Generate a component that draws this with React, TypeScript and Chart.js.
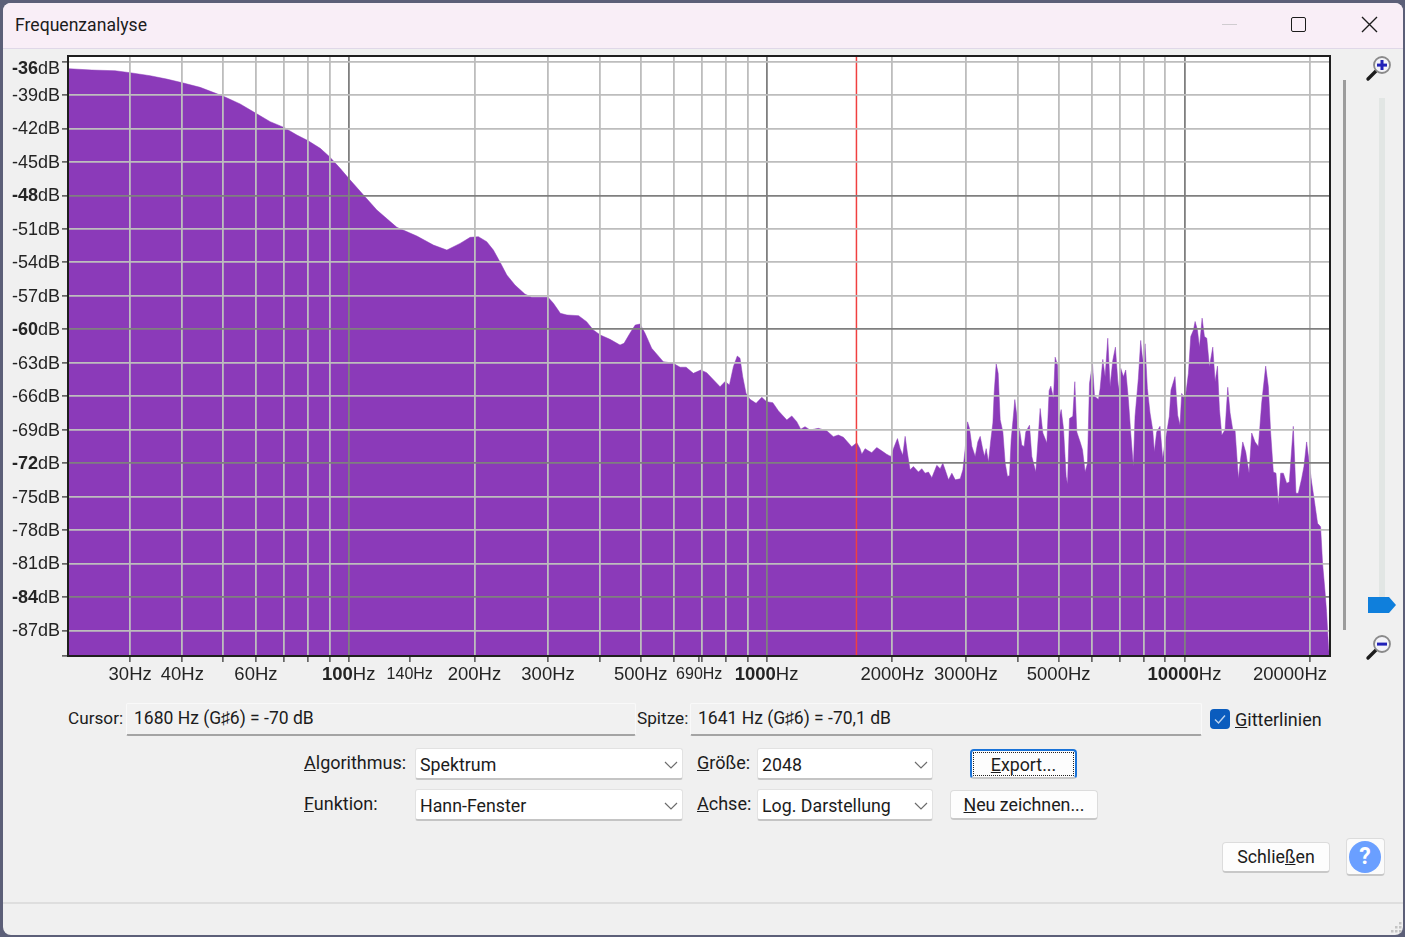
import { useEffect, useRef } from "react"
import { Chart, registerables } from "chart.js"

Chart.register(...registerables)

// Spectrum: frequency in Hz and level in dB
const spectrumHz = [
  21.4, 24.3, 27.6, 30, 33.5, 36.7, 40, 44.1, 50, 55, 60, 64.9, 70, 75.2, 80, 85.5, 90, 95.4, 100, 108.5,
  116.8, 130.4, 145.6, 159.5, 171.8, 184.8, 195.3, 204.4, 214, 222, 230, 239, 250, 264, 274, 300, 309, 321, 333, 355,
  371, 385, 400, 422, 446, 456, 471, 485, 498, 512, 531, 566, 598, 621, 642, 668, 696, 719, 774, 796,
  815, 833, 851, 864, 877, 893, 913, 944, 974, 1000, 1035, 1067, 1118, 1149, 1181, 1207, 1236, 1271, 1330, 1393,
  1445, 1485, 1527, 1599, 1644, 1674, 1690, 1721, 1753, 1785, 1835, 1886, 1938, 1982, 2012, 2057, 2088, 2118, 2146, 2173,
  2205, 2246, 2309, 2352, 2396, 2440, 2486, 2555, 2603, 2641, 2675, 2725, 2776, 2828, 2907, 2950, 2988, 3027, 3060, 3100,
  3157, 3203, 3245, 3293, 3323, 3354, 3397, 3441, 3480, 3505, 3544, 3583, 3623, 3677, 3724, 3772, 3814, 3849, 3898, 3927,
  3970, 4000, 4029, 4081, 4134, 4172, 4258, 4313, 4409, 4458, 4516, 4583, 4685, 4745, 4789, 4860, 4905, 4968, 5014, 5070,
  5135, 5211, 5250, 5308, 5406, 5466, 5526, 5629, 5702, 5786, 5861, 5926, 6025, 6092, 6227, 6284, 6377, 6459, 6554, 6639,
  6737, 6836, 6950, 7040, 7144, 7236, 7343, 7438, 7547, 7617, 7758, 7858, 7945, 8048, 8152, 8272, 8395, 8472, 8581, 8740,
  8869, 8983, 9066, 9200, 9285, 9493, 9633, 9758, 9849, 10037, 10222, 10354, 10508, 10605, 10742, 10862, 11022, 11165, 11309, 11476,
  11690, 11841, 11995, 12127, 12284, 12511, 12695, 12859, 13049, 13218, 13463, 13587, 13788, 14017, 14276, 14487, 14755, 15028, 15306, 15646,
  15877, 16082, 16320, 16561, 16775, 16992, 17243, 17562, 17822, 18218, 18487, 18726, 19073, 19319, 19604, 19893, 20149, 20447, 20825, 21172,
  21406, 21683, 21883, 22125, 22207,
]
const spectrumDb = [
  -36.64, -36.76, -36.82, -37, -37.27, -37.57, -37.9, -38.31, -39.09, -39.8, -40.64, -41.39, -41.9, -42.59, -43.1, -43.78, -44.53, -45.57, -46.47, -47.96,
  -49.31, -50.86, -51.64, -52.45, -52.9, -52.3, -51.76, -51.7, -52.15, -52.9, -53.94, -55.13, -56.03, -56.84, -57.13, -57.13, -57.67, -58.57, -58.72, -58.78,
  -59.32, -60.06, -60.51, -60.9, -61.41, -61.26, -60.36, -59.62, -59.53, -60.36, -61.7, -62.9, -63.05, -63.4, -63.4, -63.95, -63.65, -63.89, -65.15, -64.67,
  -65, -63.35, -62.4, -62.6, -64.25, -65.74, -66.28, -66.64, -66.1, -66.49, -66.58, -67.3, -68.13, -67.77, -68.28, -68.96, -68.73, -69.03, -68.88, -69.09,
  -69.63, -69.48, -69.68, -70.53, -70.17, -70.7, -71.2, -70.7, -70.9, -71.06, -70.6, -70.9, -71.2, -71.4, -70.7, -69.8, -70.7, -71.3, -69.6, -71.1,
  -72.6, -72.3, -72.8, -72.5, -72.9, -72.8, -73.3, -72.2, -72.5, -72, -72.6, -73.5, -72.9, -73.5, -73.4, -72.6, -70.7, -68.3, -68.9, -70.5,
  -71.4, -70.1, -69.6, -70.8, -71.4, -70.7, -71.9, -69.9, -68.4, -65.7, -63.1, -63.95, -68.1, -69.2, -72, -73.2, -73.1, -69.9, -67.7, -66.3,
  -67.7, -71.3, -68.9, -70.4, -70.5, -69.2, -68.6, -71.4, -72.8, -70.2, -67.1, -69.3, -70.2, -65.5, -65.1, -66.2, -62.5, -63.2, -68, -67.2,
  -68.9, -73.2, -73.9, -68, -67.8, -64.7, -69.2, -70.1, -70.8, -72.8, -72, -64.85, -63.1, -66, -66.3, -65.3, -62.7, -64.25, -60.8, -65.15,
  -62.8, -61.6, -65.45, -63.5, -64.25, -63.65, -66.3, -69.3, -72.3, -67.8, -64.4, -61, -62.8, -61.3, -65.3, -67.5, -69, -71, -69.2, -68.7,
  -71.6, -70.2, -69.3, -67.8, -65.45, -64.25, -67.7, -68.6, -65.75, -66.3, -63.95, -60.65, -60.07, -59.3, -60.07, -61.6, -59, -60.65, -60.8, -63.35,
  -61.6, -64.7, -63.3, -67.2, -69.5, -69, -65.2, -67.5, -69, -69.1, -73.4, -72, -70.1, -71, -72.9, -69.3, -70.1, -70.5, -66.6, -63.3,
  -65.15, -69.3, -72.8, -72.9, -75.75, -72.9, -72.9, -73.8, -73.7, -68.7, -74.7, -74.7, -73.4, -72.3, -70.1, -72, -73.7, -75.3, -77.4, -77.7,
  -81, -83.4, -85.3, -88.6, -89,
]

const cursorHz = 1641

const freqTicks = [
  30, 40, 50, 60, 70, 80, 90, 100, 140, 200, 300, 400, 500, 600, 690, 700, 800, 900, 1000,
  2000, 3000, 4000, 5000, 6000, 7000, 8000, 9000, 10000, 20000,
]
const freqLabels = [30, 40, 60, 100, 140, 200, 300, 500, 690, 1000, 2000, 3000, 5000, 10000, 20000]
const freqBold = [100, 1000, 10000]
const freqSmall = [140, 690]
const freqNoGrid = [140, 690]

const dbTicks = [-36, -39, -42, -45, -48, -51, -54, -57, -60, -63, -66, -69, -72, -75, -78, -81, -84, -87]
const dbBold = [-36, -48, -60, -72, -84]

const DB_MAX = -35.5
const DB_MIN = -89.29
const HZ_MIN = 21.3
const HZ_MAX = 22300

const LABEL_FONT = '"Liberation Sans", Arial, sans-serif'
const UI_FONT = 'Roboto, "Noto Sans", sans-serif'
const PURPLE = "#8b3ab9"

const axisLabels = {
  id: "axisLabels",
  beforeDraw(chart: any) {
    const { ctx, chartArea } = chart
    ctx.save()
    ctx.fillStyle = "#ffffff"
    ctx.fillRect(chartArea.left, chartArea.top, chartArea.right - chartArea.left, chartArea.bottom - chartArea.top)
    ctx.restore()
  },
  afterDraw(chart: any) {
    const { ctx, chartArea, scales } = chart
    ctx.save()

    // frame round the plot
    ctx.strokeStyle = "#1f1f1f"
    ctx.lineWidth = 2
    ctx.strokeRect(chartArea.left, chartArea.top, chartArea.right - chartArea.left, chartArea.bottom - chartArea.top)

    ctx.fillStyle = "#242424"
    ctx.textBaseline = "middle"
    ctx.textAlign = "left"

    // y labels, the top one sits lower than its tick
    scales.y.ticks.forEach((t: any) => {
      if (!dbTicks.includes(t.value)) return
      const y = scales.y.getPixelForValue(t.value) + (t.value === -36 ? 7 : 1)
      const num = String(t.value)
      ctx.font = `18px ${LABEL_FONT}`
      const unit = ctx.measureText("dB").width
      ctx.fillText("dB", 60 - unit, y)
      ctx.font = `${dbBold.includes(t.value) ? "bold " : ""}18px ${LABEL_FONT}`
      ctx.fillText(num, 60 - unit - ctx.measureText(num).width, y)
    })

    // x labels, bold digits on the decades, 20000 is pushed in from the edge
    scales.x.ticks.forEach((t: any) => {
      if (!freqLabels.includes(t.value)) return
      const size = freqSmall.includes(t.value) ? 16 : 18.5
      const num = String(t.value)
      const numFont = `${freqBold.includes(t.value) ? "bold " : ""}${size}px ${LABEL_FONT}`
      const unitFont = `${size}px ${LABEL_FONT}`
      ctx.font = numFont
      const numW = ctx.measureText(num).width
      ctx.font = unitFont
      const unitW = ctx.measureText("Hz").width
      const total = numW + unitW
      let left = scales.x.getPixelForValue(t.value) - total / 2
      if (left + total > chartArea.right - 3) left = chartArea.right - 3 - total
      const y = chartArea.bottom + 19
      ctx.font = numFont
      ctx.fillText(num, left, y)
      ctx.font = unitFont
      ctx.fillText("Hz", left + numW, y)
    })
    ctx.restore()
  },
}

function SpectrumChart() {
  const canvasRef = useRef<HTMLCanvasElement>(null)

  useEffect(() => {
    if (!canvasRef.current) return
    const points = spectrumHz.map((hz, i) => ({ x: hz, y: spectrumDb[i] }))

    const chart = new Chart(canvasRef.current, {
      type: "scatter",
      data: {
        datasets: [
          {
            data: [
              { x: cursorHz, y: DB_MAX },
              { x: cursorHz, y: DB_MIN },
            ],
            showLine: true,
            borderColor: "#f04040",
            borderWidth: 1.5,
            pointRadius: 0,
            order: 0,
          },
          {
            data: points,
            showLine: true,
            fill: "start",
            backgroundColor: PURPLE,
            borderColor: PURPLE,
            borderWidth: 0.5,
            tension: 0,
            pointRadius: 0,
            order: 1,
          },
        ],
      },
      options: {
        animation: false,
        responsive: false,
        maintainAspectRatio: false,
        layout: { padding: { left: 0, top: 6, right: 10, bottom: 0 } },
        plugins: { legend: { display: false }, tooltip: { enabled: false } },
        scales: {
          x: {
            type: "logarithmic",
            min: HZ_MIN,
            max: HZ_MAX,
            afterBuildTicks: (scale: any) => {
              scale.ticks = freqTicks.map((value) => ({ value }))
            },
            afterFit: (scale: any) => {
              scale.height = 34
            },
            ticks: { display: false, autoSkip: false },
            border: { display: false },
            grid: {
              z: 1,
              lineWidth: 1.8,
              tickLength: 6,
              tickWidth: 1.2,
              tickColor: "#2b2b2b",
              color: (ctx: any) => {
                const v = ctx.tick?.value
                if (freqNoGrid.includes(v)) return "rgba(0,0,0,0)"
                return freqBold.includes(v) ? "#7f7f7f" : "#bdbdbd"
              },
            },
          },
          y: {
            type: "linear",
            min: DB_MIN,
            max: DB_MAX,
            afterBuildTicks: (scale: any) => {
              scale.ticks = [DB_MIN, ...dbTicks].map((value) => ({ value }))
            },
            afterFit: (scale: any) => {
              scale.width = 68
            },
            ticks: { display: false, autoSkip: false },
            border: { display: false },
            grid: {
              z: 1,
              lineWidth: 1.8,
              tickLength: 6,
              tickWidth: 1.2,
              tickColor: "#2b2b2b",
              color: (ctx: any) => {
                const v = ctx.tick?.value
                if (v === DB_MIN) return "rgba(0,0,0,0)"
                return dbBold.includes(v) && v !== -36 ? "#7f7f7f" : "#bdbdbd"
              },
            },
          },
        },
      },
      plugins: [axisLabels],
    } as any)

    return () => chart.destroy()
  }, [])

  return <canvas ref={canvasRef} width={1340} height={640} style={{ position: "absolute", left: 0, top: 50 }} />
}

function Label({ x, y, children, size = 18 }: any) {
  return (
    <span
      style={{
        position: "absolute",
        left: x,
        top: y - 14,
        height: 28,
        lineHeight: "28px",
        fontFamily: UI_FONT,
        fontSize: size,
        color: "#1c1c1c",
        whiteSpace: "nowrap",
      }}
    >
      {children}
    </span>
  )
}

function ReadOut({ x, w, text }: any) {
  return (
    <div
      style={{
        position: "absolute",
        left: x,
        top: 703,
        width: w,
        height: 33,
        boxSizing: "border-box",
        background: "#f1f1f1",
        borderTop: "1px solid #f9f9f9",
        borderLeft: "1px solid #f9f9f9",
        borderRight: "1px solid #f9f9f9",
        borderBottom: "2px solid #a4a4a4",
        borderRadius: 2,
        paddingLeft: 7,
        lineHeight: "29px",
        fontFamily: UI_FONT,
        fontSize: 17.5,
        color: "#1c1c1c",
        whiteSpace: "nowrap",
      }}
    >
      {text}
    </div>
  )
}

function Select({ x, y, w, text }: any) {
  return (
    <div
      style={{
        position: "absolute",
        left: x,
        top: y,
        width: w,
        height: 32,
        boxSizing: "border-box",
        background: "#fff",
        border: "1px solid #e2e2e2",
        borderBottom: "2px solid #c4c4c4",
        borderRadius: 3,
        paddingLeft: 4,
        lineHeight: "31px",
        fontFamily: UI_FONT,
        fontSize: 17.8,
        color: "#1c1c1c",
      }}
    >
      {text}
      <svg width="14" height="8" style={{ position: "absolute", right: 4, top: 12 }}>
        <path d="M1 1 L7 7 L13 1" fill="none" stroke="#6c6c6c" strokeWidth="1.2" />
      </svg>
    </div>
  )
}

function Button({ x, y, w, h, children, style }: any) {
  return (
    <div
      style={{
        position: "absolute",
        left: x,
        top: y,
        width: w,
        height: h,
        boxSizing: "border-box",
        background: "#fdfdfd",
        border: "1px solid #dcdcdc",
        borderBottom: "2px solid #c8c8c8",
        borderRadius: 4,
        textAlign: "center",
        lineHeight: `${h - 3}px`,
        fontFamily: UI_FONT,
        fontSize: 17.8,
        color: "#1c1c1c",
        whiteSpace: "nowrap",
        ...style,
      }}
    >
      {children}
    </div>
  )
}

function Magnifier({ x, y, plus }: any) {
  return (
    <svg width="30" height="30" style={{ position: "absolute", left: x, top: y }}>
      <line x1="3" y1="26" x2="12" y2="17" stroke="#1c1c1c" strokeWidth="3.4" strokeLinecap="round" />
      <circle cx="17" cy="12" r="8" fill="#f4f4f8" stroke="#8a8a8a" strokeWidth="1.8" />
      <rect x="12" y="10.6" width="10" height="3" fill="#2222b8" />
      {plus ? <rect x="15.5" y="7" width="3" height="10" fill="#2222b8" /> : null}
    </svg>
  )
}

export default function App() {
  return (
    <div style={{ position: "fixed", left: 0, top: 0, width: 1405, height: 937, overflow: "hidden", background: "#5c5f78" }}>
      <div style={{ position: "absolute", left: 3, top: 3, width: 1400, height: 932, background: "#f0f0f0", borderRadius: 8, overflow: "hidden" }}>
        <div style={{ position: "absolute", left: 0, top: 0, width: 1400, height: 45, background: "#f9eef7", borderBottom: "1px solid #e0d8e8" }} />
      </div>

      <Label x={15} y={25} size={17.6}>Frequenzanalyse</Label>
      <div style={{ position: "absolute", left: 1222, top: 24, width: 15, height: 1, background: "#d0ccd0" }} />
      <div style={{ position: "absolute", left: 1291, top: 17, width: 15, height: 15, boxSizing: "border-box", border: "1.6px solid #1c1c1c", borderRadius: 2 }} />
      <svg width="17" height="17" style={{ position: "absolute", left: 1361, top: 16 }}>
        <path d="M1 1 L16 16 M16 1 L1 16" stroke="#1c1c1c" strokeWidth="1.4" />
      </svg>

      <SpectrumChart />

      {/* vertical scroll bar and zoom slider */}
      <div style={{ position: "absolute", left: 1343, top: 80, width: 3, height: 550, background: "#9c9c9c" }} />
      <div style={{ position: "absolute", left: 1379, top: 98, width: 6, height: 500, background: "#e2e6e4" }} />
      <svg width="30" height="18" style={{ position: "absolute", left: 1367, top: 596 }}>
        <path d="M1 1 L22 1 L29 9 L22 17 L1 17 Z" fill="#0f7fdc" />
      </svg>
      <Magnifier x={1365} y={53} plus />
      <Magnifier x={1365} y={632} />

      <Label x={68} y={718} size={17.2}>Cursor:</Label>
      <ReadOut x={126} w={510} text="1680 Hz (G♯6) = -70 dB" />
      <Label x={637} y={718} size={17.2}>Spitze:</Label>
      <ReadOut x={690} w={512} text="1641 Hz (G♯6) = -70,1 dB" />
      <div style={{ position: "absolute", left: 1210, top: 709, width: 20, height: 20, background: "#0a5cbe", borderRadius: 4 }}>
        <svg width="20" height="20">
          <path d="M5 10.5 L8.5 14 L15 6.5" fill="none" stroke="#bcd4f0" strokeWidth="1.4" />
        </svg>
      </div>
      <Label x={1235} y={720}><u>G</u>itterlinien</Label>

      <Label x={304} y={763}><u>A</u>lgorithmus:</Label>
      <Select x={415} y={748} w={268} text="Spektrum" />
      <Label x={304} y={804}><u>F</u>unktion:</Label>
      <Select x={415} y={789} w={268} text="Hann-Fenster" />
      <Label x={697} y={763}><u>G</u>röße:</Label>
      <Select x={757} y={748} w={176} text="2048" />
      <Label x={697} y={804}><u>A</u>chse:</Label>
      <Select x={757} y={789} w={176} text="Log. Darstellung" />

      <Button x={970} y={749} w={107} h={30} style={{ border: "2px solid #1a73d8", outline: "1px dotted #222", outlineOffset: -4 }}>
        <u>E</u>xport...
      </Button>
      <Button x={950} y={790} w={148} h={30}><u>N</u>eu zeichnen...</Button>
      <Button x={1222} y={842} w={108} h={31}>Schlie<u>ß</u>en</Button>
      <div style={{ position: "absolute", left: 1346, top: 838, width: 39, height: 38, boxSizing: "border-box", background: "#fbfbfb", border: "1px solid #dcdcdc", borderBottom: "2px solid #c8c8c8", borderRadius: 4 }} />
      <div
        style={{
          position: "absolute",
          left: 1349,
          top: 841,
          width: 32,
          height: 32,
          borderRadius: "50%",
          background: "#6a9fff",
          color: "#fff",
          textAlign: "center",
          lineHeight: "32px",
          fontFamily: UI_FONT,
          fontWeight: 700,
          fontSize: 23,
        }}
      >
        ?
      </div>

      <div style={{ position: "absolute", left: 3, top: 902, width: 1400, height: 2, background: "#dedede" }} />
      <svg width="14" height="14" style={{ position: "absolute", left: 1389, top: 920 }}>
        {[[10, 2], [6, 6], [10, 6], [2, 10], [6, 10], [10, 10]].map(([cx, cy]) => (
          <rect key={`${cx}-${cy}`} x={cx} y={cy} width="2.5" height="2.5" fill="#c4c4c4" />
        ))}
      </svg>
    </div>
  )
}
